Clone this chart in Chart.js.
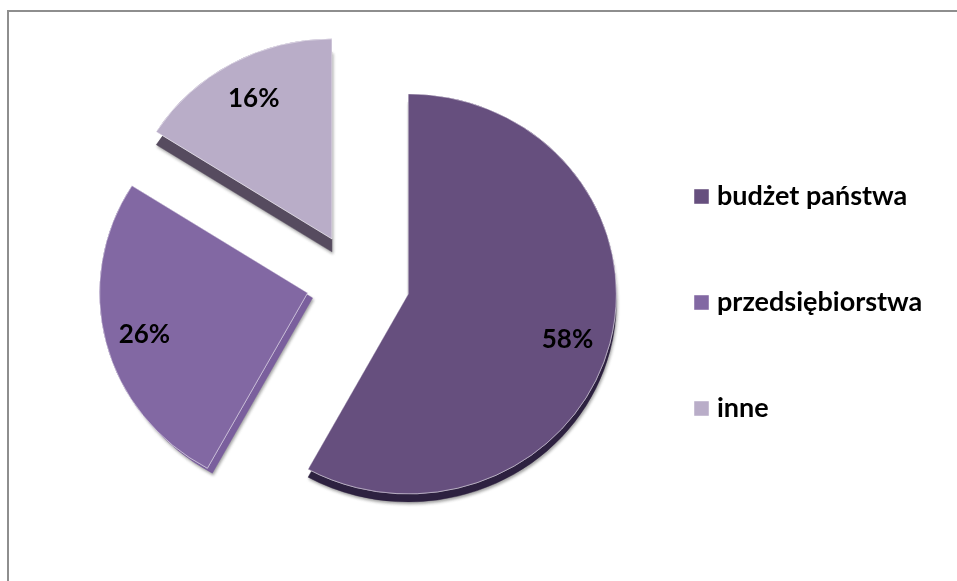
<!DOCTYPE html>
<html><head><meta charset="utf-8">
<style>
html,body{margin:0;padding:0;background:#fff;width:957px;height:581px;overflow:hidden}
#frame{position:absolute;left:7px;top:10px;width:960px;height:580px;border:2px solid #8e8e8e;box-sizing:content-box}
#wrap{position:absolute;left:0;top:0;width:957px;height:581px}
</style>
<script src="https://cdn.jsdelivr.net/npm/chart.js@4"></script>
</head><body>
<div id="frame"></div>
<div id="wrap"><canvas id="c" width="957" height="581"></canvas></div>
<script>
const categories = ['budżet państwa','przedsiębiorstwa','inne'];
const values = [58,26,16];
const colors = ['#664f7e','#8268a3','#b9adc8'];
const sideColors = ['#2d2140','#7a5f9d','#564b5f'];
const sliceShift = [54,50,50];
const sideDX = [0,5,0];
const sideDY = [8,5,13];
const labelDX = [-2,-2,2];
const labelDY = [6,2,0];
const RADIUS = 208;
const Y_SQUASH = 200/208;
const sliceTextRadius = 0.80;

function squash(ctx, chart){
  const cy = (chart.chartArea.top + chart.chartArea.bottom)/2;
  ctx.translate(0, cy);
  ctx.scale(1, Y_SQUASH);
  ctx.translate(0, -cy);
}
const piePlugin = {
  id:'pie3d',
  afterLayout(chart){
    const a = chart.chartArea;
    a.left=0; a.right=712; a.top=0; a.bottom=562; a.width=712; a.height=562;
    const l = chart.legend;
    const p = l.options.labels.padding;
    const w = l.right-l.left, h = l.bottom-l.top;
    l.left = 699.5-p; l.right=l.left+w; l.top = 183-p; l.bottom=l.top+h;
  },
  afterDatasetsUpdate(chart){
    chart.getDatasetMeta(0).data.forEach((arc,i)=>{
      const mid=(arc.startAngle+arc.endAngle)/2;
      arc.x += Math.cos(mid)*sliceShift[i];
      arc.y += Math.sin(mid)*sliceShift[i];
    });
  },
  beforeDatasetDraw(chart, args){
    const ctx = chart.ctx, area = chart.chartArea;
    ctx.save();
    squash(ctx, chart);
    const arcs = chart.getDatasetMeta(args.index).data;
    arcs.forEach((arc,i)=>{
      ctx.save();
      ctx.shadowColor='rgba(90,90,90,0.55)';
      ctx.shadowBlur=3;
      ctx.shadowOffsetX=sideDX[i]+1;
      ctx.shadowOffsetY=sideDY[i]+2;
      arc.draw(ctx, area);
      ctx.shadowColor=sideColors[i];
      ctx.shadowBlur=0;
      ctx.shadowOffsetX=sideDX[i];
      ctx.shadowOffsetY=sideDY[i];
      arc.draw(ctx, area);
      ctx.restore();
    });
  },
  afterDatasetDraw(chart){ chart.ctx.restore(); },
  afterDatasetsDraw(chart){
    const ctx = chart.ctx;
    const meta = chart.getDatasetMeta(0);
    ctx.save();
    ctx.font='bold 26px Lato';
    ctx.fillStyle='#000';
    ctx.textAlign='center';
    ctx.textBaseline='middle';
    const cy=(chart.chartArea.top+chart.chartArea.bottom)/2;
    meta.data.forEach((arc,i)=>{
      const {x,y,startAngle,endAngle} = arc.getProps(['x','y','startAngle','endAngle'],true);
      const mid=(startAngle+endAngle)/2;
      const r=RADIUS*sliceTextRadius;
      const px=x+Math.cos(mid)*r+labelDX[i];
      const py=cy+(y+Math.sin(mid)*r-cy)*Y_SQUASH+labelDY[i];
      ctx.fillText(values[i]+'%',px,py);
    });
    ctx.restore();
  }
};
new Chart(document.getElementById('c'),{
  type:'pie',
  data:{labels:categories,datasets:[{
    data:values,
    backgroundColor:colors,
    borderColor:'rgba(255,255,255,0.45)',
    borderWidth:1,
    clip:false
  }]},
  options:{
    responsive:false,
    animation:false,
    radius:RADIUS,
    plugins:{
      tooltip:{enabled:false},
      legend:{
        position:'right',
        align:'start',
        labels:{
          font:{family:'Lato',size:27,weight:'bold'},
          color:'#000',
          boxWidth:4,
          boxHeight:15,
          usePointStyle:true,
          pointStyle:'rect',
          padding:79
        }
      }
    }
  },
  plugins:[piePlugin]
});
</script>
</body></html>
